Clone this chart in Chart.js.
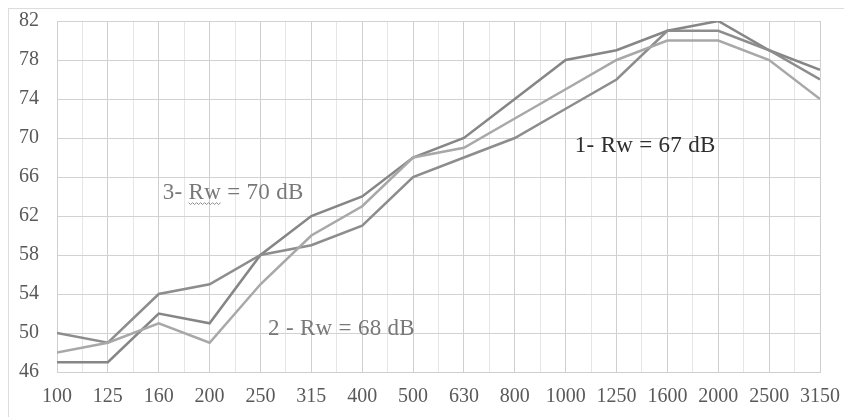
<!DOCTYPE html>
<html>
<head>
<meta charset="utf-8">
<script src="https://cdn.jsdelivr.net/npm/chart.js@4"></script>
<style>
  html, body { margin: 0; padding: 0; background: #fff; }
  #wrap { position: relative; width: 844px; height: 417px; overflow: hidden; }
  #frame { position: absolute; left: 8px; top: 8px; width: 900px; height: 500px; border: 1px solid #dcdcdc; }
  #chart { position: absolute; left: 0; top: 0; }
</style>
</head>
<body>
<div id="wrap">
  <div id="frame"></div>
  <canvas id="chart" width="844" height="417"></canvas>
</div>
<script>
var freqs = ['100', '125', '160', '200', '250', '315', '400', '500', '630', '800', '1000', '1250', '1600', '2000', '2500', '3150'];

// 1 - Rw = 67 dB
var rw67 = [50, 49, 54, 55, 58, 59, 61, 66, 68, 70, 73, 76, 81, 81, 79, 76];
// 3 - Rw = 70 dB
var rw70 = [47, 47, 52, 51, 58, 62, 64, 68, 70, 74, 78, 79, 81, 82, 79, 77];
// 2 - Rw = 68 dB
var rw68 = [48, 49, 51, 49, 55, 60, 63, 68, 69, 72, 75, 78, 80, 80, 78, 74];

var yTicks = [46, 50, 54, 58, 62, 66, 70, 74, 78, 82];

// text labels placed in data units (category index, dB)
var notes = [
  { text: '3- Rw = 70 dB', at: 2.08, level: 64.4, color: '#787878', wavy: 'Rw', before: '3- ' },
  { text: '2 - Rw = 68 dB', at: 4.15, level: 50.4, color: '#787878' },
  { text: '1- Rw = 67 dB', at: 10.18, level: 69.2, color: '#2e2e2e' }
];

function toPoints(arr) {
  return arr.map(function (v, i) { return { x: i, y: v }; });
}

var notesPlugin = {
  id: 'notes',
  afterDatasetsDraw: function (chart) {
    var ctx = chart.ctx;
    var xs = chart.scales.x, ys = chart.scales.y;
    ctx.save();
    ctx.font = '23px "Liberation Serif", "Times New Roman", serif';
    ctx.letterSpacing = '0.3px';
    ctx.textBaseline = 'middle';
    ctx.textAlign = 'left';
    notes.forEach(function (n) {
      var px = xs.getPixelForValue(n.at);
      var py = ys.getPixelForValue(n.level);
      ctx.fillStyle = n.color;
      ctx.fillText(n.text, px, py);
      if (n.wavy) {
        var x0 = px + ctx.measureText(n.before).width;
        var w = ctx.measureText(n.wavy).width;
        var yb = py + 10;
        ctx.strokeStyle = '#8a8a8a';
        ctx.lineWidth = 1;
        ctx.beginPath();
        for (var k = 0; k <= w; k += 2) {
          var yy = yb + ((k / 2) % 2 === 0 ? 0 : 2);
          if (k === 0) ctx.moveTo(x0 + k, yy); else ctx.lineTo(x0 + k, yy);
        }
        ctx.stroke();
      }
    });
    ctx.restore();
  }
};

var tickFont = { family: '"Liberation Serif", "Times New Roman", serif', size: 20 };

new Chart('chart', {
  type: 'line',
  data: {
    datasets: [
      { label: '2 - Rw = 68 dB', data: toPoints(rw68), borderColor: '#a8a8a8', borderWidth: 2.5, pointRadius: 0, tension: 0 },
      { label: '1- Rw = 67 dB', data: toPoints(rw67), borderColor: '#8d8d8d', borderWidth: 2.5, pointRadius: 0, tension: 0 },
      { label: '3- Rw = 70 dB', data: toPoints(rw70), borderColor: '#868686', borderWidth: 2.5, pointRadius: 0, tension: 0 }
    ]
  },
  options: {
    responsive: false,
    animation: false,
    layout: { padding: { top: 21, right: 24, left: 0, bottom: 0 } },
    plugins: { legend: { display: false }, tooltip: { enabled: false } },
    scales: {
      x: {
        type: 'linear',
        min: 0,
        max: freqs.length - 1,
        afterBuildTicks: function (scale) {
          var t = [];
          for (var i = 0; i <= (freqs.length - 1) * 2; i++) t.push({ value: i / 2 });
          scale.ticks = t;
        },
        afterFit: function (scale) {
          scale.height = 45;
          scale.paddingLeft = 0;
          scale.paddingRight = 0;
        },
        ticks: {
          autoSkip: false,
          maxRotation: 0,
          padding: 13,
          color: '#595959',
          font: tickFont,
          callback: function (v) { return Number.isInteger(v) ? freqs[v] : ''; }
        },
        grid: {
          drawTicks: false,
          color: function (c) { return Number.isInteger(c.tick.value) ? '#cfcfcf' : '#e6e6e6'; },
          lineWidth: 1
        },
        border: { color: '#cfcfcf' }
      },
      y: {
        min: 46,
        max: 82,
        afterBuildTicks: function (scale) {
          scale.ticks = yTicks.map(function (v) { return { value: v }; });
        },
        afterFit: function (scale) {
          scale.width = 57;
          scale.paddingTop = 0;
          scale.paddingBottom = 0;
        },
        ticks: { padding: 18, color: '#595959', font: tickFont },
        grid: { drawTicks: false, color: '#d2d2d2' },
        border: { color: '#cfcfcf' }
      }
    }
  },
  plugins: [notesPlugin]
});
</script>
</body>
</html>
